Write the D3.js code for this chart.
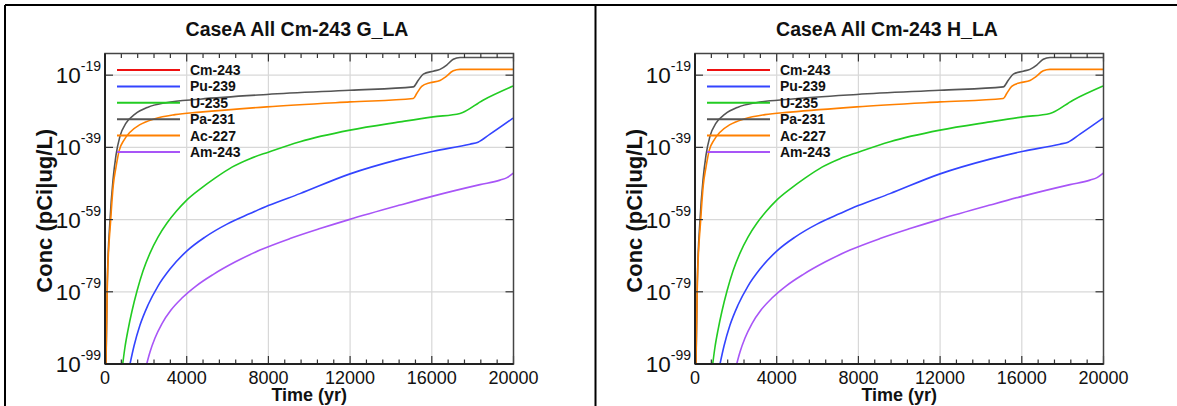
<!DOCTYPE html>
<html>
<head>
<meta charset="utf-8">
<script src="https://cdn.jsdelivr.net/npm/d3@7"></script>
<style>
  html, body { margin: 0; padding: 0; background: #fff; }
  svg { display: block; font-family: "Liberation Sans", Arial, sans-serif; }
</style>
</head>
<body>
<svg id="chart" width="1177" height="406"></svg>
<script>
// ---------------- DATA ----------------
const panelTitles = ["CaseA All Cm-243 G_LA", "CaseA All Cm-243 H_LA"];
const seriesNames = ["Cm-243", "Pu-239", "U-235", "Pa-231", "Ac-227", "Am-243"];
const xTickValues = [0, 4000, 8000, 12000, 16000, 20000];
const yTickExponents = [-99, -79, -59, -39, -19];

// time (yr) and log10(concentration) pairs
const cm243Time = [];            // below the plotted range (not visible)
const cm243LogConc = [];
const pu239Time = [1224, 1420, 1714, 2105, 2595, 3182, 4000, 4896, 5973, 7099, 7995, 9547, 11961, 14443, 16073, 17870, 18262, 18850, 19976];
const pu239LogConc = [-99, -94.02, -88.21, -82.67, -77.41, -72.71, -67.72, -63.85, -60.25, -57.34, -55.13, -51.81, -46.41, -42.26, -40.05, -38.11, -37.55, -35.34, -30.91];
const u235Time = [867, 979, 1126, 1322, 1567, 1860, 2203, 2595, 3036, 3501, 4000, 4651, 5386, 6218, 7099, 7995, 9547, 11995, 14443, 16059, 17381, 18507, 19976];
const u235LogConc = [-99, -94.29, -89.59, -84.33, -78.80, -73.26, -68.28, -63.85, -59.97, -56.65, -53.61, -50.56, -47.52, -44.47, -42.12, -40.32, -37.42, -34.23, -31.94, -30.55, -29.61, -25.93, -22.03];
const pa231Time = [49, 113, 245, 392, 539, 734, 1028, 1469, 2105, 2987, 4651, 7931, 11995, 15094, 15339, 15584, 16073, 16401, 16729, 17052, 17381, 20000];
const pa231LogConc = [-99, -76.58, -59.14, -48.07, -41.15, -35.89, -32.30, -29.80, -27.87, -26.62, -25.65, -24.35, -23.16, -22.25, -20.4, -18.7, -17.9, -17.4, -16.2, -14.6, -14.1, -14.1];
const ac227Time = [45, 113, 279, 406, 539, 700, 930, 1224, 1714, 2448, 3427, 4651, 7917, 11995, 15094, 15261, 15505, 15912, 16401, 16646, 17052, 17381, 20000];
const ac227LogConc = [-99, -76.6, -59.1, -49.46, -44.47, -39.77, -37.0, -34.79, -32.71, -31.05, -29.94, -29.25, -27.78, -26.40, -25.46, -24.1, -22.1, -21.1, -20.5, -19.6, -17.8, -17.4, -17.4];
const am243Time = [2042, 2203, 2448, 2791, 3231, 3770, 4455, 5288, 6365, 7589, 9058, 10526, 11946, 14443, 16059, 18360, 19339, 19682, 19990];
const am243LogConc = [-99, -95.68, -91.80, -87.79, -84.05, -80.73, -77.41, -74.23, -70.77, -67.45, -64.26, -61.50, -59.01, -54.99, -52.50, -49.32, -48.07, -47.38, -46.14];

const seriesColors = ["#ee1111", "#3344ff", "#22cc22", "#555555", "#ff8000", "#a855f7"];

const seriesTimes = [cm243Time, pu239Time, u235Time, pa231Time, ac227Time, am243Time];
const seriesLogs = [cm243LogConc, pu239LogConc, u235LogConc, pa231LogConc, ac227LogConc, am243LogConc];

// ---------------- DRAW ----------------
const svg = d3.select("#chart");

// outer frame lines
svg.append("line").attr("x1", 5).attr("x2", 1177).attr("y1", 5).attr("y2", 5).attr("stroke", "#000").attr("stroke-width", 2);
svg.append("line").attr("x1", 5).attr("x2", 5).attr("y1", 5).attr("y2", 406).attr("stroke", "#000").attr("stroke-width", 2);
svg.append("line").attr("x1", 595.5).attr("x2", 595.5).attr("y1", 5).attr("y2", 406).attr("stroke", "#000").attr("stroke-width", 2);

const panelLayout = [
  { left: 105, right: 513.5, titleX: 297 },
  { left: 695, right: 1103.5, titleX: 887 }
];
const plotTop = 53.5, plotBottom = 364;

panelLayout.forEach((lay, pi) => {
  const g = svg.append("g");
  const x = d3.scaleLinear().domain([0, 20000]).range([lay.left, lay.right]);
  const y = d3.scaleLog().domain([1e-99, 1e-13]).range([plotBottom, plotTop]);

  // title
  g.append("text").attr("x", lay.titleX).attr("y", 36).attr("text-anchor", "middle")
    .attr("font-size", 19.5).attr("font-weight", "bold").attr("fill", "#111").text(panelTitles[pi]);

  // grid
  g.append("g").selectAll("line").data(xTickValues.slice(1, -1)).join("line")
    .attr("x1", d => x(d)).attr("x2", d => x(d)).attr("y1", plotTop).attr("y2", plotBottom)
    .attr("stroke", "#d8d8d8").attr("stroke-width", 1.2);
  g.append("g").selectAll("line").data(yTickExponents.slice(1)).join("line")
    .attr("x1", lay.left).attr("x2", lay.right).attr("y1", d => y(Math.pow(10, d))).attr("y2", d => y(Math.pow(10, d)))
    .attr("stroke", "#d8d8d8").attr("stroke-width", 1.2);

  // clip
  const clipId = "clip" + pi;
  g.append("clipPath").attr("id", clipId).append("rect")
    .attr("x", lay.left).attr("y", plotTop).attr("width", lay.right - lay.left).attr("height", plotBottom - plotTop);

  const line = d3.line().x(d => x(d[0])).y(d => y(Math.pow(10, d[1]))).curve(d3.curveMonotoneX);
  const lines = g.append("g").attr("clip-path", `url(#${clipId})`);
  seriesNames.forEach((name, si) => {
    const pts = seriesTimes[si].map((t, k) => [t, seriesLogs[si][k]]);
    if (!pts.length) return;
    lines.append("path").datum(pts).attr("d", line).attr("fill", "none")
      .attr("stroke", seriesColors[si]).attr("stroke-width", 1.6);
  });

  // axes ticks (inward)
  const xMinor = d3.range(0, 20001, 800);
  const axG = g.append("g");
  xMinor.forEach(v => {
    const major = v % 4000 === 0;
    const len = major ? 8 : 4.5;
    axG.append("line").attr("x1", x(v)).attr("x2", x(v)).attr("y1", plotBottom).attr("y2", plotBottom - len).attr("stroke", "#333").attr("stroke-width", 1.2);
    axG.append("line").attr("x1", x(v)).attr("x2", x(v)).attr("y1", plotTop).attr("y2", plotTop + len).attr("stroke", "#333").attr("stroke-width", 1.2);
  });
  yTickExponents.forEach(e => {
    const yy = y(Math.pow(10, e));
    axG.append("line").attr("x1", lay.left).attr("x2", lay.left + 8).attr("y1", yy).attr("y2", yy).attr("stroke", "#333").attr("stroke-width", 1.2);
    axG.append("line").attr("x1", lay.right).attr("x2", lay.right - 8).attr("y1", yy).attr("y2", yy).attr("stroke", "#333").attr("stroke-width", 1.2);
  });

  // frame
  g.append("rect").attr("x", lay.left).attr("y", plotTop).attr("width", lay.right - lay.left).attr("height", plotBottom - plotTop)
    .attr("fill", "none").attr("stroke", "#444").attr("stroke-width", 1.5);
  g.append("line").attr("x1", lay.left).attr("x2", lay.left).attr("y1", plotTop).attr("y2", plotBottom).attr("stroke", "#222").attr("stroke-width", 2);
  g.append("line").attr("x1", lay.left).attr("x2", lay.right).attr("y1", plotBottom).attr("y2", plotBottom).attr("stroke", "#222").attr("stroke-width", 2);

  // x tick labels
  g.append("g").selectAll("text").data(xTickValues).join("text")
    .attr("x", d => x(d)).attr("y", 384).attr("text-anchor", "middle")
    .attr("font-size", 18).attr("fill", "#111").text(d => d);

  // y tick labels 10^e
  yTickExponents.forEach(e => {
    const yy = y(Math.pow(10, e));
    const t = g.append("text").attr("x", lay.left - 4).attr("y", yy + 8).attr("text-anchor", "end").attr("fill", "#111");
    t.append("tspan").attr("font-size", 22.5).text("10");
    t.append("tspan").attr("font-size", 14).attr("dy", -12).text(String(e));
  });

  // axis labels
  g.append("text").attr("transform", `translate(${lay.left - 53},${(plotTop + plotBottom) / 2 + 2}) rotate(-90)`)
    .attr("text-anchor", "middle").attr("font-size", 22).attr("font-weight", "bold").attr("fill", "#111")
    .text("Conc (pCi|ug/L)");
  g.append("text").attr("x", (lay.left + lay.right) / 2).attr("y", 401).attr("text-anchor", "middle")
    .attr("font-size", 18).attr("font-weight", "bold").attr("fill", "#111").text("Time (yr)");

  // legend
  const leg = g.append("g");
  seriesNames.forEach((name, si) => {
    const ly = 70 + si * 16.4;
    leg.append("line").attr("x1", lay.left + 12).attr("x2", lay.left + 75).attr("y1", ly).attr("y2", ly)
      .attr("stroke", seriesColors[si]).attr("stroke-width", 2);
    leg.append("text").attr("x", lay.left + 85).attr("y", ly + 5).attr("font-size", 14).attr("font-weight", "bold")
      .attr("fill", "#111").text(name);
  });
});
</script>
</body>
</html>
